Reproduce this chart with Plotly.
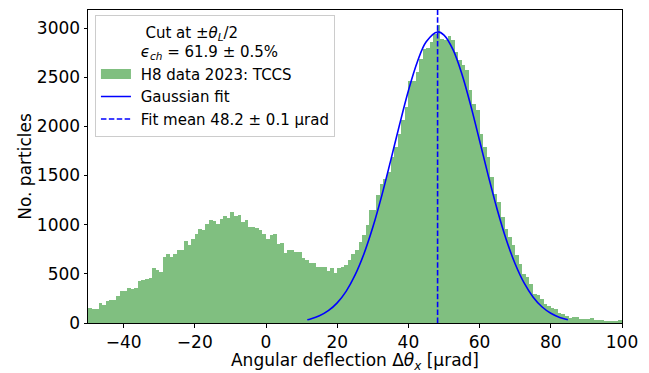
import numpy as np
import plotly.graph_objects as go

# ---------------- data ----------------
bin_start = -50.0
bin_width = 1.0

counts_left = [154, 144, 144, 205, 188, 219, 229, 229, 277, 321,
               321, 358, 341, 361, 423, 440, 450, 460, 555, 544,
               518, 674, 697, 667, 697, 738, 738, 830, 789, 850,
               901, 959, 949, 1003, 1044, 1033, 1010, 1054, 1084, 1067,
               1125, 1088, 1094, 1023, 1044, 973, 973, 962, 942, 905]
counts_mid = [851, 896, 902, 806, 816, 714, 738, 738, 725, 718,
              656, 636, 610, 610, 572, 572, 572, 528, 562, 505,
              560, 565, 585, 636, 704, 738, 823, 891, 993, 1145,
              1150, 1298, 1417, 1460, 1536, 1688, 1790, 1926, 2062, 2200,
              2459, 2460, 2554, 2680, 2791, 2800, 2859, 2944, 3030, 2893]
counts_right = [2876, 2917, 2880, 2760, 2673, 2621, 2571, 2374, 2231, 2164,
                1926, 1790, 1688, 1485, 1315, 1230, 1077, 959, 874, 789,
                687, 603, 500, 467, 399, 297, 280, 246, 195, 178,
                155, 138, 104, 90, 70, 55, 60, 58, 40, 37,
                36, 48, 28, 26, 35, 25, 24, 25, 20, 28]

fit_x = [11.6, 12.5, 15, 17.5, 20, 22.5, 25, 27.5, 30, 32.5, 35, 37.5, 40,
         42.5, 45, 48.2, 50, 52.5, 55, 57.5, 60, 62.5, 65, 67.5, 70, 72.5,
         75, 77.5, 80, 82.5, 84.8]
fit_y = [33, 41, 73, 125, 205, 322, 486, 702, 973, 1293, 1649, 2015, 2362,
         2654, 2860, 2960, 2928, 2782, 2535, 2213, 1854, 1489, 1147, 847,
         600, 407, 265, 165, 99, 57, 33]

fit_mean = 48.2

x_ticks = [-40, -20, 0, 20, 40, 60, 80, 100]
y_ticks = [0, 500, 1000, 1500, 2000, 2500, 3000]

label_hist = "H8 data 2023: TCCS"
label_fit = "Gaussian fit"
label_mean = "Fit mean 48.2 ± 0.1 µrad"
label_cut = "Cut at ±<i>θ<sub>L</sub></i>/2"
label_eff = "<i>ϵ<sub>ch</sub></i> = 61.9 ± 0.5%"

# ---------------- figure ----------------
counts = counts_left + counts_mid + counts_right
centers = bin_start + bin_width * (np.arange(len(counts)) + 0.5)

FONT = "DejaVu Sans"
GREEN = "#80bf80"
BLUE = "#0000ff"
NB = "\u00a0"
y_top = 3183

fig = go.Figure()
fig.add_trace(go.Bar(x=centers, y=counts, width=bin_width,
                     marker=dict(color=GREEN, line=dict(width=0)),
                     showlegend=False, hoverinfo="skip"))
fig.add_trace(go.Scatter(x=[None], y=[None], mode="lines",
                         name=NB + NB + label_cut + "<br>" + NB + label_eff,
                         line=dict(color="rgba(0,0,0,0)", width=1)))
fig.add_trace(go.Scatter(x=[None], y=[None], mode="lines", name=NB + label_hist,
                         line=dict(color=GREEN, width=10)))
fig.add_trace(go.Scatter(x=fit_x, y=fit_y, mode="lines", name=NB + label_fit,
                         line=dict(color=BLUE, width=1.6, shape="spline")))
fig.add_trace(go.Scatter(x=[fit_mean, fit_mean], y=[0, y_top], mode="lines",
                         name=NB + label_mean,
                         line=dict(color=BLUE, width=1.6, dash="5.5px,2.4px")))

axis_common = dict(showline=True, linecolor="black", linewidth=1, mirror=True,
                   ticks="outside", ticklen=3.5, tickwidth=1, tickcolor="black",
                   showgrid=False, zeroline=False,
                   tickfont=dict(family=FONT, size=17, color="black"),
                   automargin=False)

fig.update_xaxes(range=[-50, 100], tickvals=x_ticks,
                 title=dict(text="Angular deflection Δ<i>θ<sub>x</sub></i> [µrad]",
                            font=dict(family=FONT, size=17, color="black"),
                            standoff=5),
                 **axis_common)
fig.update_yaxes(range=[0, y_top], tickvals=y_ticks,
                 title=dict(text="No. particles",
                            font=dict(family=FONT, size=17, color="black"),
                            standoff=0),
                 **axis_common)

fig.update_layout(
    width=649, height=373,
    margin=dict(l=88, r=27, t=10, b=50, pad=0),
    paper_bgcolor="white", plot_bgcolor="white",
    bargap=0,
    font=dict(family=FONT, size=15, color="black"),
    legend=dict(x=0.013, y=0.985, xanchor="left", yanchor="top",
                bgcolor="rgba(255,255,255,0.8)", bordercolor="#cccccc",
                borderwidth=1, font=dict(family=FONT, size=15, color="black"),
                traceorder="normal", itemwidth=30),
)

fig.write_html("out.html")
